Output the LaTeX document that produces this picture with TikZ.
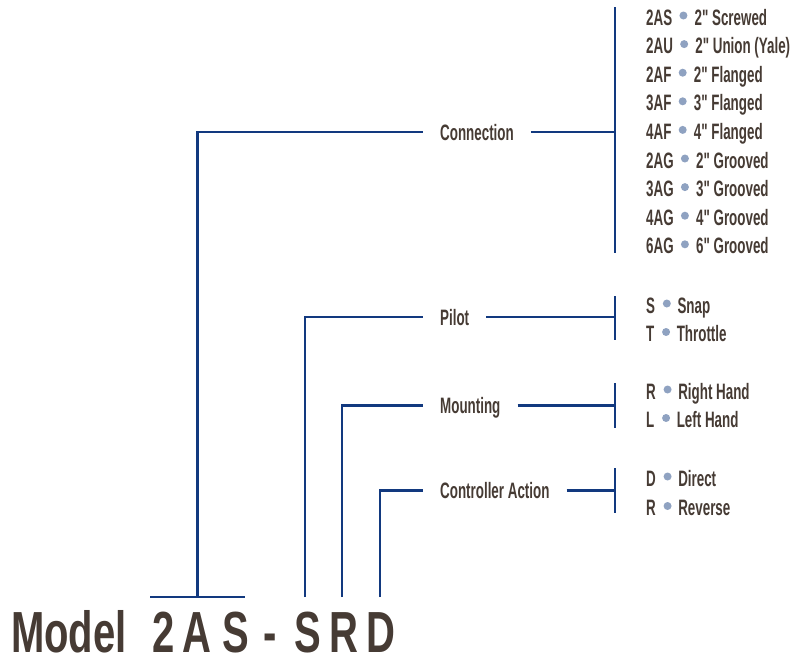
\documentclass[tikz,border=0pt]{standalone}
\usepackage{fontspec}
\setmainfont{Liberation Sans}
\newfontfamily\condfont{Liberation Sans}[FakeStretch=0.6, UprightFont=* Bold]
\newfontfamily\modelfont{Liberation Sans}[FakeStretch=0.69, UprightFont=* Bold]
\usepackage{tikz}
\usetikzlibrary{positioning, calc}
\definecolor{linenavy}{HTML}{12397F}
\definecolor{inkbrown}{HTML}{463B34}
\definecolor{dotgray}{HTML}{8FA2C1}

\tikzset{
  branch/.style={draw=linenavy, line width=2.6pt},
  catlabel/.style={anchor=west, inner xsep=17pt, inner ysep=0pt, text height=16pt, text depth=0pt,
                   text=inkbrown, font=\condfont\fontsize{22.3}{26}\selectfont},
  optcode/.style={anchor=west, inner sep=0pt, text height=16pt, text depth=0pt,
                  text=inkbrown, font=\condfont\fontsize{22.3}{26}\selectfont},
  optdesc/.style={optcode},
  modelchar/.style={anchor=base, inner sep=0pt, text=inkbrown, font=\modelfont\fontsize{58}{60}\selectfont}
}

\begin{document}
\begin{tikzpicture}[x=1pt, y=-1pt]
  \useasboundingbox (0,0) rectangle (797,656);

  % model number along the bottom
  \node[modelchar, anchor=base west] (model) at (11,652) {Model};
  \node[modelchar] (m2)  at (164,652) {2};
  \node[modelchar] (mA)  at (197,652) {A};
  \node[modelchar] (mS)  at (236,652) {S};
  \node[modelchar] (mdash) at (270,652) {-};
  \node[modelchar] (pS)  at (308,652) {S};
  \node[modelchar] (pR)  at (344,652) {R};
  \node[modelchar] (pD)  at (381,652) {D};

  \coordinate (barL) at (150,597);
  \coordinate (barR) at (245,597);
  \coordinate (connFoot)  at (197.5,597);
  \coordinate (pilotFoot) at (305,597);
  \coordinate (mountFoot) at (342,597);
  \coordinate (ctrlFoot)  at (380,597);

  % category labels
  \node[catlabel] (conn)  at (423,132)   {Connection};
  \node[catlabel] (pilot) at (423,317)   {Pilot};
  \node[catlabel] (mount) at (423,405.5) {Mounting};
  \node[catlabel] (ctrl)  at (423,490.5) {Controller Action};

  % brackets
  \coordinate (connTop)  at (615,7);   \coordinate (connBot)  at (615,253);
  \coordinate (pilotTop) at (615,296); \coordinate (pilotBot) at (615,340);
  \coordinate (mountTop) at (615,383); \coordinate (mountBot) at (615,428);
  \coordinate (ctrlTop)  at (615,468); \coordinate (ctrlBot)  at (615,513);

  \draw[branch] (barL) -- (barR);
  \draw[branch] (connFoot)  |- (conn.west);
  \draw[branch] (pilotFoot) |- (pilot.west);
  \draw[branch] (mountFoot) |- (mount.west);
  \draw[branch] (ctrlFoot)  |- (ctrl.west);

  \draw[branch] (conn.east)  -- (conn.east -| connTop);
  \draw[branch] (pilot.east) -- (pilot.east -| pilotTop);
  \draw[branch] (mount.east) -- (mount.east -| mountTop);
  \draw[branch] (ctrl.east)  -- (ctrl.east -| ctrlTop);

  \draw[branch] (connTop)  -- (connBot);
  \draw[branch] (pilotTop) -- (pilotBot);
  \draw[branch] (mountTop) -- (mountBot);
  \draw[branch] (ctrlTop)  -- (ctrlBot);

  % option lists
  \foreach \code/\desc [count=\i] in {2AS/2" Screwed, 2AU/2" Union (Yale), 2AF/2" Flanged,
      3AF/3" Flanged, 4AF/4" Flanged, 2AG/2" Grooved, 3AG/3" Grooved, 4AG/4" Grooved, 6AG/6" Grooved}{
    \node[optcode] (conncode\i) at (646,{17+(\i-1)*28.6}) {\code};
    \fill[dotgray] ([xshift=11pt, yshift=1.5pt]conncode\i.east) circle (4pt);
    \node[optdesc, right=22pt of conncode\i] (conndesc\i) {\desc};
  }
  \foreach \code/\desc/\y [count=\i] in {S/Snap/305, T/Throttle/333.5, R/Right Hand/391, L/Left Hand/419.5,
      D/Direct/478, R/Reverse/507.5}{
    \node[optcode] (optcode\i) at (646,\y) {\code};
    \fill[dotgray] ([xshift=11.5pt, yshift=1.5pt]optcode\i.east) circle (4pt);
    \node[optdesc, right=22pt of optcode\i] (optdesc\i) {\desc};
  }
\end{tikzpicture}
\end{document}
